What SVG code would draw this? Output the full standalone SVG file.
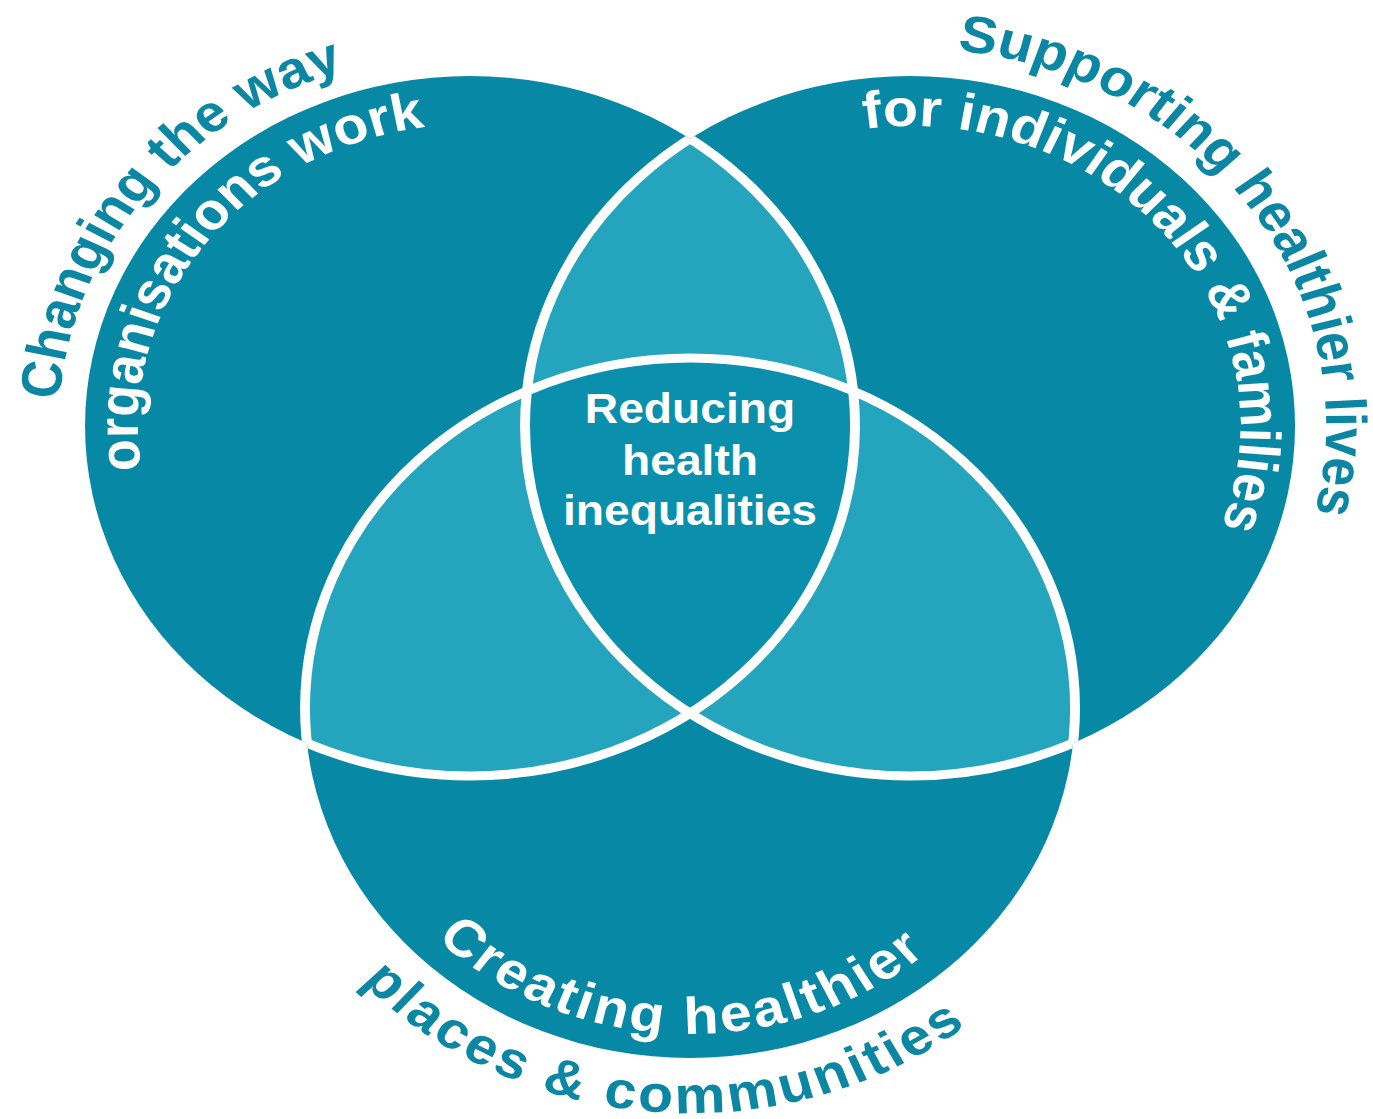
<svg xmlns="http://www.w3.org/2000/svg" xmlns:xlink="http://www.w3.org/1999/xlink" width="1373" height="1119" viewBox="0 0 1373 1119">
<style>
.dark{fill:#0789a6}
.light{fill:#25a4be}
.mid{fill:#0a8fac}
.outline{fill:none;stroke:#ffffff;stroke-width:9}
.lbl{font-family:"Liberation Sans",Arial,sans-serif;font-weight:bold;font-size:52px}
.in{fill:#ffffff}
.out{fill:#0b86a3}
.ctr{font-family:"Liberation Sans",Arial,sans-serif;font-weight:bold;font-size:42px;fill:#ffffff;text-anchor:middle}
</style>
<defs>
<circle id="cL" cx="427.3" cy="426" r="350"/>
<circle id="cR" cx="827.3" cy="426" r="350"/>
<circle id="cB" cx="627.3" cy="708" r="350"/>
<clipPath id="clipL"><use xlink:href="#cL"/></clipPath>
<clipPath id="clipR"><use xlink:href="#cR"/></clipPath>
<clipPath id="clipB"><use xlink:href="#cB"/></clipPath>
<clipPath id="clipRB"><use xlink:href="#cR"/><use xlink:href="#cB"/></clipPath>
<clipPath id="clipLB"><use xlink:href="#cL"/><use xlink:href="#cB"/></clipPath>
<clipPath id="clipLR"><use xlink:href="#cL"/><use xlink:href="#cR"/></clipPath>
<path id="pLout" d="M54.2,399.9 A374,374 0 0 1 799.2,386.9"/>
<path id="pLin" d="M128.5,469.6 A302,302 0 0 1 714,331.2"/>
<path id="pRout" d="M870.1,50.4 A378,378 0 0 1 850.4,803.3"/>
<path id="pRin" d="M786.1,128.8 A300,300 0 0 1 919.5,711.5"/>
<path id="pBin" d="M396.8,938.5 A326,326 0 0 0 894.3,521"/>
<path id="pBout" d="M328.7,981.6 A405,405 0 0 0 968.9,490.4"/>
</defs>
<g transform="scale(1.1,1)">
<g id="node-organisations">
<use xlink:href="#cL" class="dark"/>
<text class="lbl out"><textPath xlink:href="#pLout">Changing the way</textPath></text>
<text class="lbl in"><textPath xlink:href="#pLin">organisations work</textPath></text>
</g>
<g id="node-individuals">
<use xlink:href="#cR" class="dark"/>
<text class="lbl out"><textPath xlink:href="#pRout">Supporting healthier lives</textPath></text>
<text class="lbl in"><textPath xlink:href="#pRin">for individuals &amp; families</textPath></text>
</g>
<g id="node-places">
<use xlink:href="#cB" class="dark"/>
<text class="lbl in" letter-spacing="2.8"><textPath xlink:href="#pBin">Creating healthier</textPath></text>
<text class="lbl out" letter-spacing="3"><textPath xlink:href="#pBout">places &amp; communities</textPath></text>
</g>
<g id="overlaps">
<use xlink:href="#cL" class="light" clip-path="url(#clipR)"/>
<use xlink:href="#cL" class="light" clip-path="url(#clipB)"/>
<use xlink:href="#cR" class="light" clip-path="url(#clipB)"/>
<g clip-path="url(#clipR)"><use xlink:href="#cL" class="mid" clip-path="url(#clipB)"/></g>
</g>
<g id="connectors">
<use xlink:href="#cL" class="outline" clip-path="url(#clipRB)"/>
<use xlink:href="#cR" class="outline" clip-path="url(#clipLB)"/>
<use xlink:href="#cB" class="outline" clip-path="url(#clipLR)"/>
</g>
<g id="node-center">
<text class="ctr" x="627.3" y="423">Reducing</text>
<text class="ctr" x="627.3" y="475">health</text>
<text class="ctr" x="627.3" y="525">inequalities</text>
</g>
</g>
</svg>
